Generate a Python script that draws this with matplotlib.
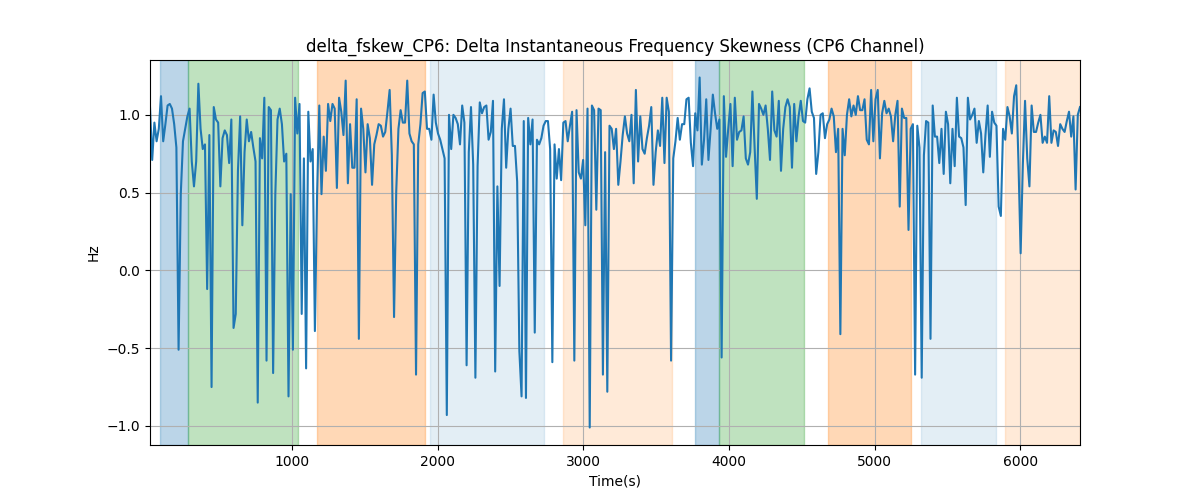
import numpy as np
import matplotlib
matplotlib.use("Agg")
import matplotlib.pyplot as plt

t_start, t_end = 24, 6409

values = [
    # ~24 - 820 s
    1.05, 0.71, 0.95, 0.83, 0.91, 1.12, 0.83, 0.94, 1.06, 1.07, 1.04, 0.94, 0.79, -0.51, 0.49, 0.83,
    0.91, 0.99, 1.04, 0.70, 0.54, 0.70, 1.20, 0.91, 0.78, 0.81, -0.12, 0.87, -0.75, 1.05, 0.97, 0.95,
    0.54, 0.85, 0.90, 0.87, 0.69, 0.97, -0.37, -0.28, 0.64, 0.99, 0.29, 0.76, 0.97, 0.83, 0.89, 0.79,
    0.70, -0.85, 0.85, 0.72, 1.11,
    # ~820 - 1610 s
    -0.58, 1.05, 1.03, -0.66, 0.49, 0.97, 1.04, 0.94, 0.70, 0.75, -0.81, 0.49, -0.51, 1.11, 0.88, 1.07,
    -0.28, 0.72, -0.63, 1.02, 0.70, 0.78, -0.39, 0.49, 1.06, 0.49, 0.86, 0.64, 1.07, 0.96, 1.07, 1.04,
    0.53, 1.11, 1.02, 0.87, 1.22, 0.56, 0.94, 0.66, 0.66, 1.10, -0.44, 1.04, 0.91, 0.63, 0.94, 0.85,
    0.55, 0.81, 0.87, 0.94,
    # ~1610 - 2400 s
    0.93, 0.86, 0.89, 1.02, 1.16, 0.74, -0.30, 0.51, 0.91, 1.03, 0.95, 0.95, 1.22, 0.88, 0.83, 0.81,
    -0.67, 0.81, 0.94, 1.14, 1.15, 0.91, 0.91, 0.84, 1.13, 0.95, 0.88, 0.84, 0.78, 0.72, -0.93, 1.00,
    0.78, 1.00, 0.98, 0.94, 0.81, 1.06, 0.95, -0.61, 0.76, 1.05, 0.68, -0.69, 0.67, 1.08, 1.01, 1.05,
    1.06, 0.84, 0.89, 1.09,
    # ~2400 - 3200 s
    -0.65, 0.54, -0.10, 0.91, 1.10, 0.66, 0.91, 1.04, 0.80, 0.80, 0.57, -0.52, -0.81, 0.96, -0.82, 0.98,
    0.81, 0.97, -0.40, 0.84, 0.81, 0.85, 0.93, 0.96, 0.96, 0.78, -0.59, 0.81, 0.59, 0.78, 0.58, 0.95,
    0.96, 0.83, 0.93, 1.02, -0.58, 1.03, 0.63, 0.59, 0.71, 0.29, 1.04, -1.01, 1.06, 1.03, 0.39, 1.04,
    1.03, -0.67, 0.76, -0.78, 0.93,
    # ~3200 - 4000 s
    0.91, 0.78, 0.91, 0.55, 0.70, 0.87, 0.99, 0.88, 0.83, 1.00, 0.56, 1.16, 0.70, 0.99, 0.78, 0.75,
    0.85, 0.93, 1.05, 0.55, 0.76, 0.90, 0.80, 1.11, 0.69, 1.11, 1.02, -0.58, 0.72, 0.83, 0.98, 0.84,
    0.94, 0.94, 1.10, 1.11, 0.82, 0.67, 1.01, 0.90, 1.24, 0.68, 0.84, 1.10, 0.71, 0.91, 1.13, 1.01,
    0.91, 0.97, -0.56, 1.12, 0.73,
    # ~4000 - 4800 s
    0.91, 1.07, 0.67, 1.11, 0.84, 0.89, 0.90, 0.99, 0.72, 0.68, 0.76, 1.15, 0.79, 0.46, 1.07, 1.04,
    1.00, 1.06, 0.91, 0.71, 1.15, 0.90, 0.86, 1.09, 0.64, 0.91, 1.05, 1.10, 1.05, 0.66, 1.07, 0.83,
    0.99, 1.09, 0.96, 0.95, 1.10, 1.17, 1.02, 0.98, 0.62, 0.76, 1.00, 1.01, 0.85, 0.94, 0.97, 1.04,
    0.99, 0.76, 0.91, -0.41, 0.91,
    # ~4800 - 5600 s
    0.74, 1.00, 1.10, 0.99, 1.06, 1.00, 1.12, 1.03, 1.03, 1.10, 0.84, 0.81, 1.16, 0.83, 1.10, 1.16,
    0.72, 1.01, 1.09, 1.01, 1.04, 0.99, 0.83, 1.00, 1.09, 0.41, 1.04, 0.98, 0.98, 0.26, 0.91, 0.94,
    -0.67, 0.93, 0.79, -0.69, 0.74, 0.96, 0.95, -0.44, 1.06, 0.86, 0.86, 0.69, 0.91, 0.62, 1.02, 0.94,
    0.56, 0.91, 0.67, 1.11, 0.86,
    # ~5600 - 6409 s
    0.85, 0.79, 0.42, 1.11, 0.97, 1.00, 1.04, 0.82, 0.96, 0.88, 0.63, 0.87, 1.06, 0.73, 1.02, 0.95,
    0.93, 0.41, 0.35, 0.91, 0.84, 1.05, 0.99, 0.88, 1.12, 1.19, 0.70, 0.11, 0.68, 1.09, 0.72, 0.54,
    1.06, 0.89, 0.89, 0.95, 1.00, 0.82, 0.86, 0.82, 1.12, 0.82, 0.90, 0.89, 0.80, 0.94, 0.91, 0.89,
    0.96, 1.02, 0.86, 0.99, 0.52, 1.00, 1.05,
]

span_starts = [93, 285, 1172, 1948, 2862, 3763, 3928, 4677, 5316, 5893]
span_ends = [285, 1041, 1914, 2732, 3611, 3928, 4512, 5247, 5832, 6409]
span_colors = ["tab:blue", "tab:green", "tab:orange", "tab:blue", "tab:orange",
               "tab:blue", "tab:green", "tab:orange", "tab:blue", "tab:orange"]
span_alphas = [0.3, 0.3, 0.3, 0.12, 0.16, 0.3, 0.3, 0.3, 0.12, 0.16]

times = np.linspace(t_start, t_end, len(values))

fig, ax = plt.subplots(figsize=(12, 5), dpi=100)
for s, e, c, a in zip(span_starts, span_ends, span_colors, span_alphas):
    ax.axvspan(s, e, color=c, alpha=a)
ax.plot(times, values, color="tab:blue", linewidth=1.5)
ax.set_xlim(t_start, t_end)
ax.grid(True, color="#b0b0b0")
ax.set_title("delta_fskew_CP6: Delta Instantaneous Frequency Skewness (CP6 Channel)")
ax.set_xlabel("Time(s)")
ax.set_ylabel("Hz")
fig.savefig("out.png")
